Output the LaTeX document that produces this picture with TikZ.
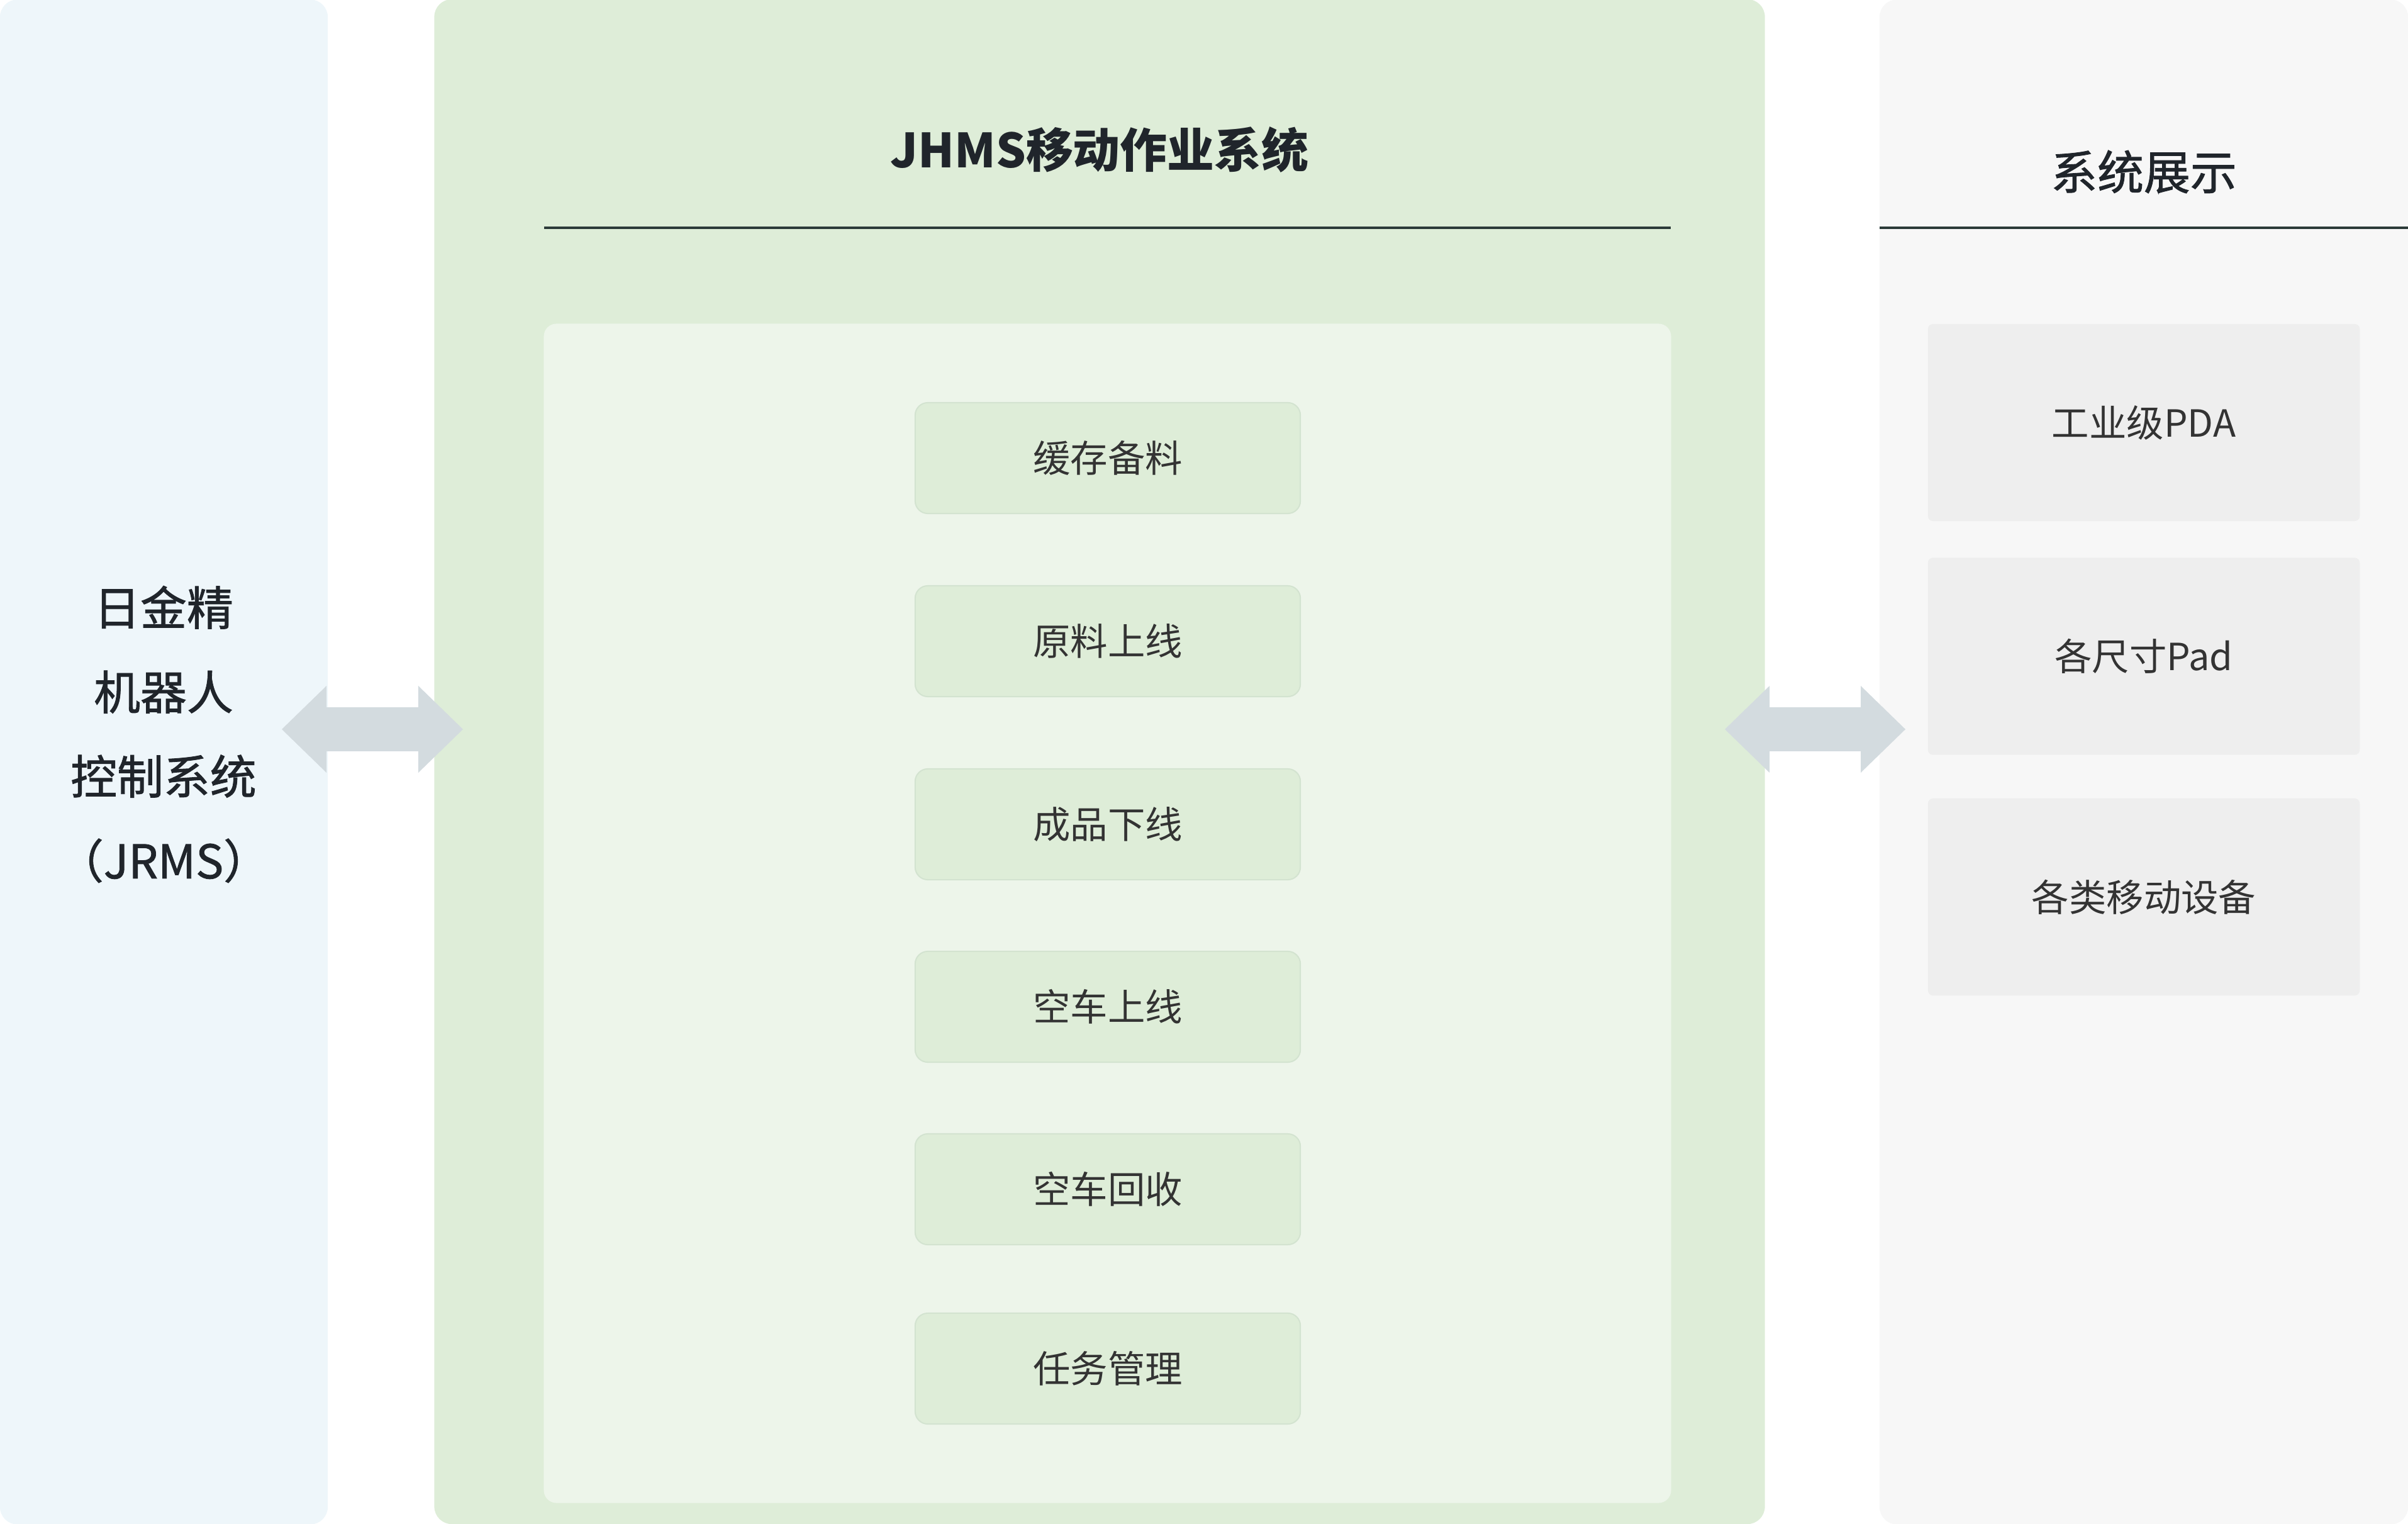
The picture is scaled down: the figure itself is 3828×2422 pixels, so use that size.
\documentclass[tikz,border=0pt]{standalone}
\usepackage{fontspec}
\setmainfont{Noto Sans CJK SC}
\newfontfamily\midfont[FakeBold=1.2]{Noto Sans CJK SC}
\usetikzlibrary{arrows.meta}

\definecolor{leftblue}{HTML}{EEF6FA}
\definecolor{midgreen}{HTML}{DEEDD8}
\definecolor{innergreen}{HTML}{EDF5EA}
\definecolor{boxgreen}{HTML}{DEEDD8}
\definecolor{boxedge}{HTML}{D3E3D0}
\definecolor{rightgray}{HTML}{F7F7F7}
\definecolor{devgray}{HTML}{EEEEEE}
\definecolor{arrowgray}{HTML}{D3DBDF}
\definecolor{rulecolor}{HTML}{2B3A38}
\definecolor{titletext}{HTML}{20252B}
\definecolor{boxtext}{HTML}{333333}

\begin{document}
\begin{tikzpicture}
		[x=0.01cm,y=-0.01cm,
		panel/.style={rectangle,rounded corners=0.28cm,inner sep=0pt,minimum height=24.22cm},
		taskbox/.style={rectangle,rounded corners=0.2cm,fill=boxgreen,draw=boxedge,line width=0.02cm,
			minimum width=6.12cm,minimum height=1.76cm,text=boxtext,font=\fontsize{16.9pt}{20pt}\selectfont},
		devbox/.style={rectangle,rounded corners=0.08cm,fill=devgray,
			minimum width=6.86cm,minimum height=3.13cm,text=boxtext,font=\fontsize{16.9pt}{20pt}\selectfont},
		link/.style={draw=arrowgray,line width=0.69cm,
			arrows={Triangle[length=0.71cm,width=1.38cm,line width=0pt]-Triangle[length=0.71cm,width=1.38cm,line width=0pt]}},
		rule/.style={draw=rulecolor,line width=0.035cm}]
		\useasboundingbox (0,0) rectangle (3828,2422);

		\node[panel,fill=leftblue,minimum width=5.21cm] (jrms) at (260.5,1211) {};
		\node[panel,fill=midgreen,minimum width=21.14cm] (jhms) at (1748,1210.5) {};
		\node[panel,fill=rightgray,minimum width=8.40cm] (show) at (3408,1211) {};
		\node[rectangle,rounded corners=0.2cm,fill=innergreen,inner sep=0pt,
			minimum width=17.91cm,minimum height=18.73cm] (inner) at (1760.5,1451.5) {};

		\node[align=center,text=titletext,font=\midfont\fontsize{21pt}{1.34cm}\selectfont] (jrmstext) at (260,1167)
			{日金精\\机器人\\控制系统\\（JRMS）};
		\node[text=titletext,font=\bfseries\fontsize{21.3pt}{26pt}\selectfont] (jhmstitle) at (1748,238) {JHMS移动作业系统};
		\node[text=titletext,font=\midfont\fontsize{21pt}{25pt}\selectfont] (showtitle) at (3408,273) {系统展示};

		\draw[rule] (865,362) -- (2656,362);
		\draw[rule] (2988,362) -- (3828,362);

		\node[taskbox] (t1) at (1761,728) {缓存备料};
		\node[taskbox] (t2) at (1761,1019) {原料上线};
		\node[taskbox] (t3) at (1761,1310) {成品下线};
		\node[taskbox] (t4) at (1761,1600) {空车上线};
		\node[taskbox] (t5) at (1761,1890) {空车回收};
		\node[taskbox] (t6) at (1761,2175) {任务管理};

		\node[devbox] (d1) at (3408,671.5) {工业级PDA};
		\node[devbox] (d2) at (3408,1043) {各尺寸Pad};
		\node[devbox] (d3) at (3408,1425.5) {各类移动设备};

		\coordinate (la) at (448,1159);
		\coordinate (lb) at (736,1159);
		\coordinate (ra) at (2742,1159);
		\coordinate (rb) at (3029,1159);
		\draw[link] (la) -- (lb);
		\draw[link] (ra) -- (rb);

	\end{tikzpicture}
\end{document}
